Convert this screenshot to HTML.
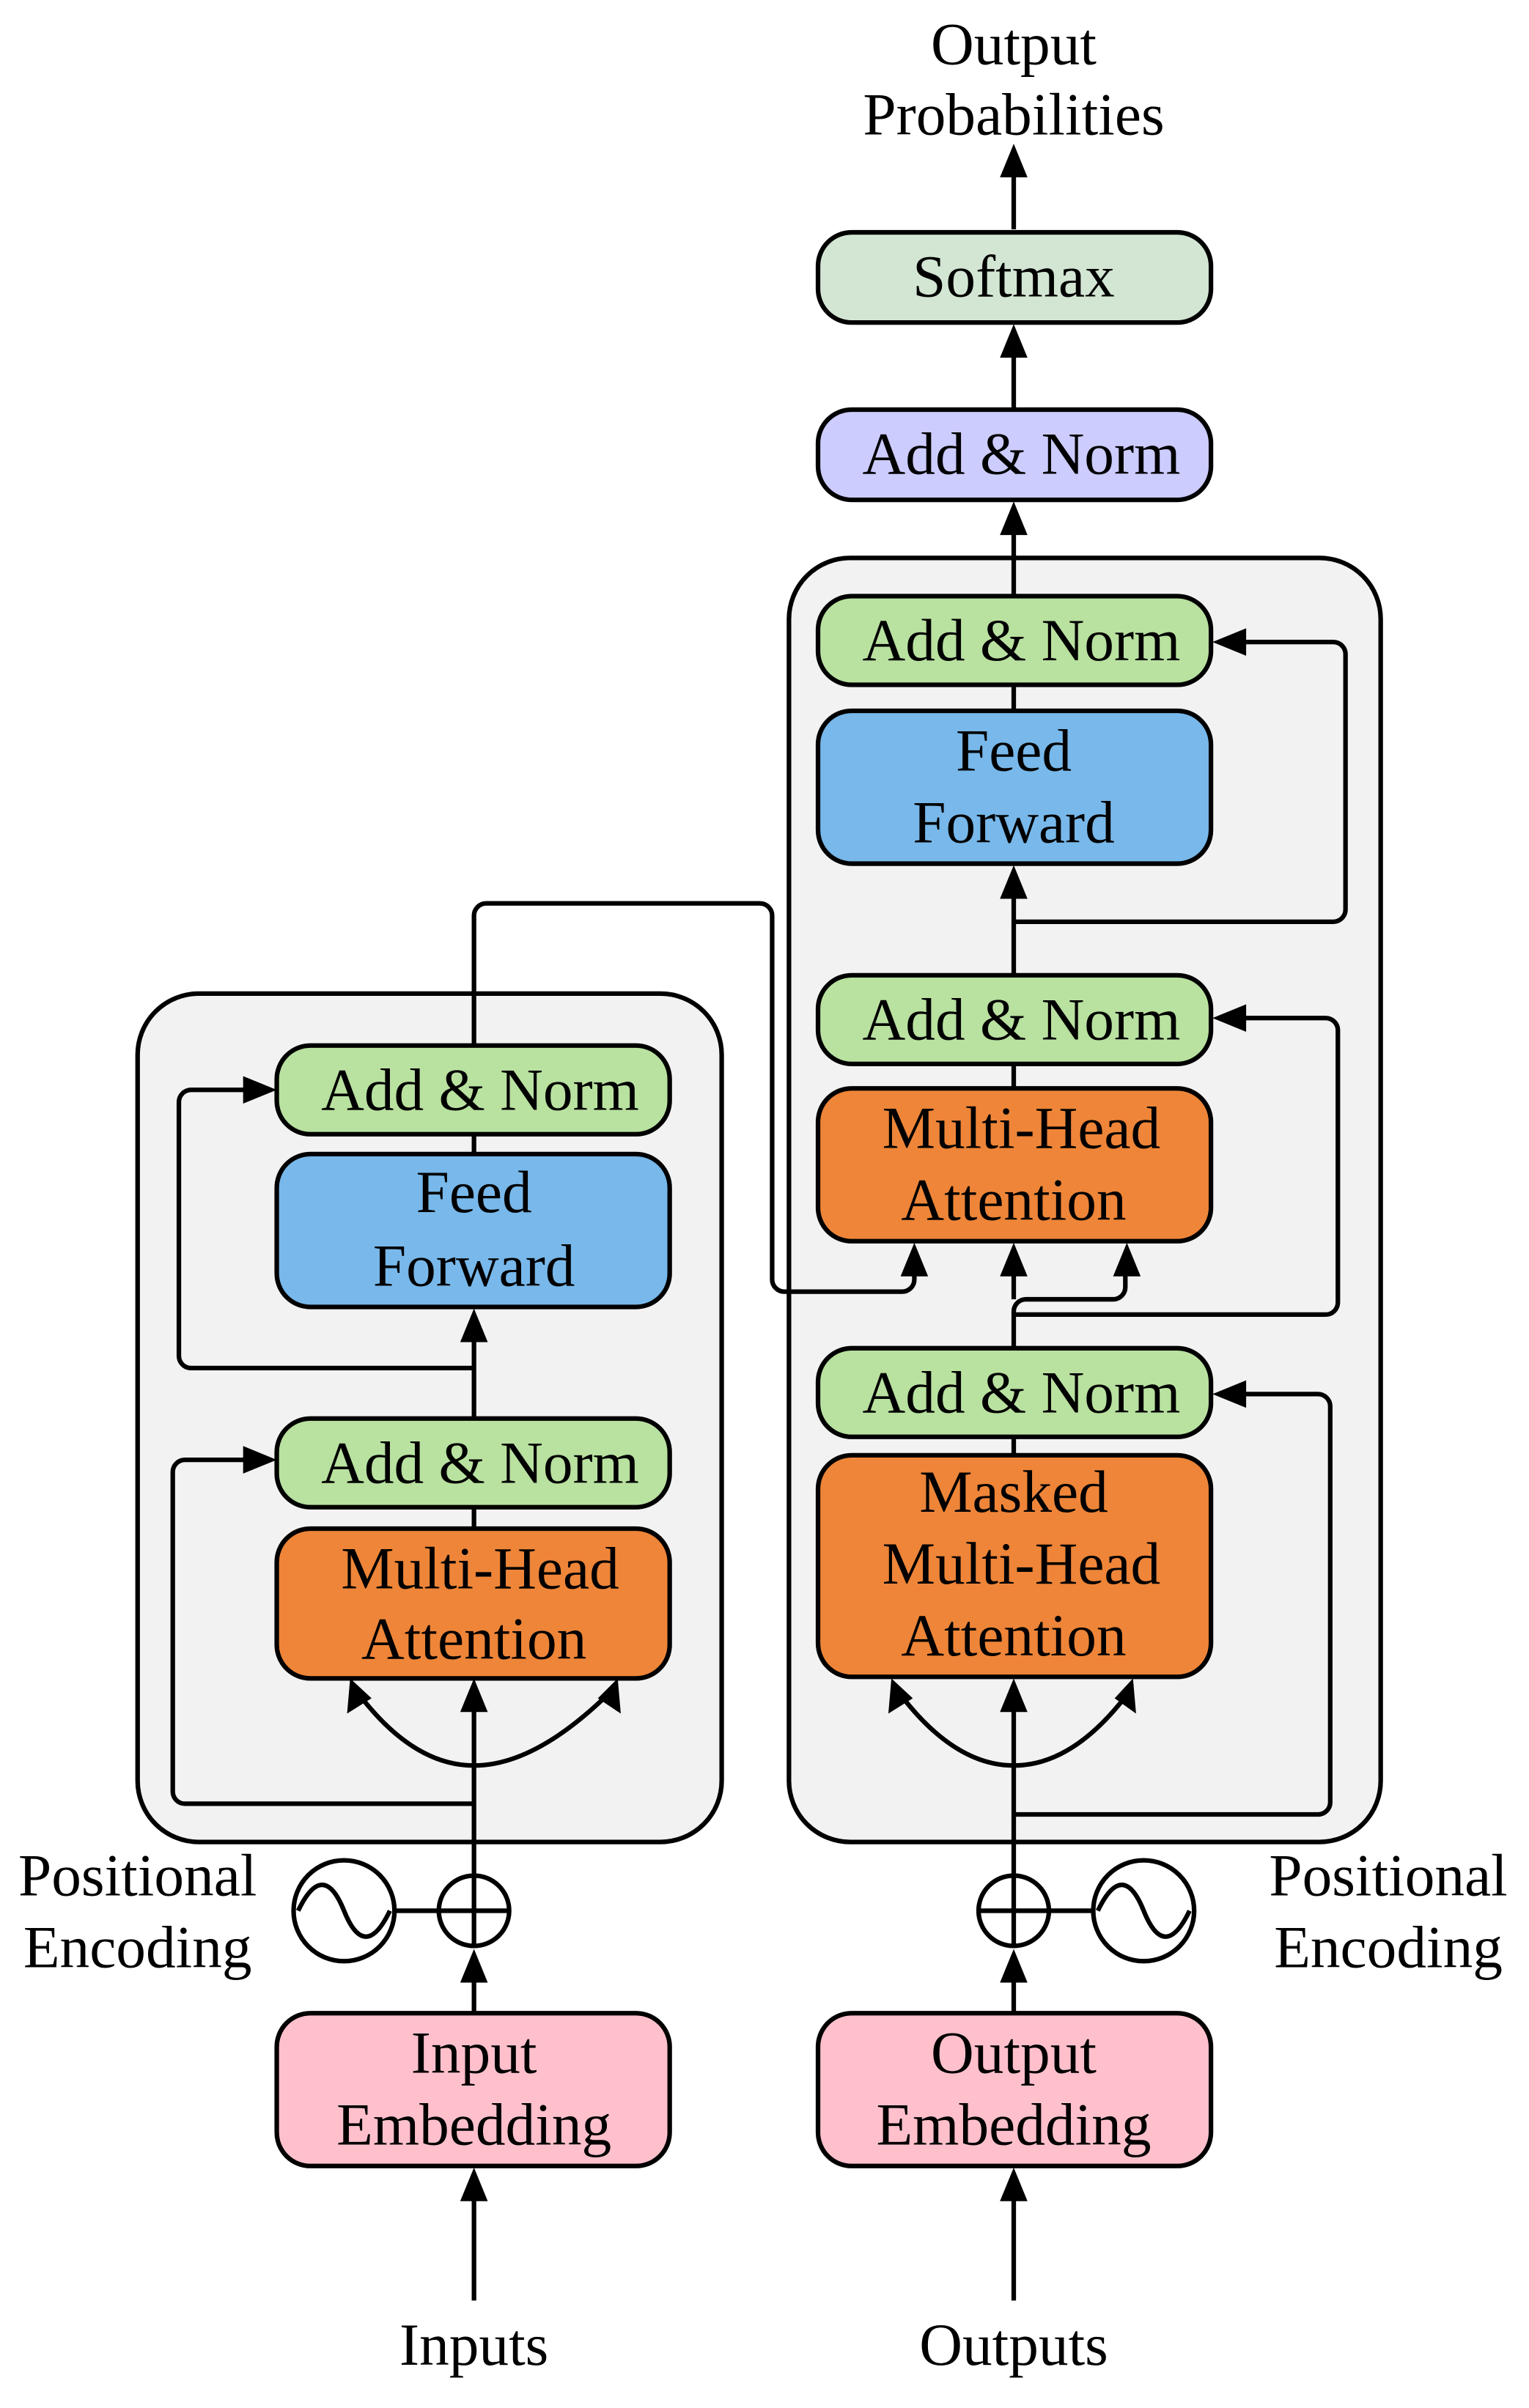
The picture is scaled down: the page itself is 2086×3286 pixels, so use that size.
<!DOCTYPE html>
<html><head><meta charset="utf-8"><style>
html,body{margin:0;padding:0;background:#fff;}
svg{display:block;}
text{font-family:"Liberation Serif",serif;font-size:39px;fill:#000;text-anchor:middle;}
</style></head><body>
<svg width="2086" height="3286" viewBox="0 0 1000 1575.3" preserveAspectRatio="none" xmlns="http://www.w3.org/2000/svg">
<g stroke="#000" stroke-width="3" fill="none">
<rect x="90" y="650" width="382" height="555" rx="40" fill="#f2f2f2"/>
<rect x="516" y="365" width="387" height="840" rx="40" fill="#f2f2f2"/>
<rect x="535" y="152" width="257" height="59" rx="22" fill="#d3e5d3"/>
<rect x="535" y="268" width="257" height="59" rx="22" fill="#ccccff"/>
<rect x="535" y="390" width="257" height="58" rx="22" fill="#b9e1a0"/>
<rect x="535" y="465" width="257" height="100" rx="22" fill="#78b8ea"/>
<rect x="535" y="638" width="257" height="58" rx="22" fill="#b9e1a0"/>
<rect x="535" y="712" width="257" height="100" rx="22" fill="#ee8538"/>
<rect x="535" y="882" width="257" height="58" rx="22" fill="#b9e1a0"/>
<rect x="535" y="952" width="257" height="145" rx="22" fill="#ee8538"/>
<rect x="535" y="1317" width="257" height="100" rx="22" fill="#ffc0cc"/>
<rect x="181" y="684" width="257" height="58" rx="22" fill="#b9e1a0"/>
<rect x="181" y="755" width="257" height="100" rx="22" fill="#78b8ea"/>
<rect x="181" y="928" width="257" height="58" rx="22" fill="#b9e1a0"/>
<rect x="181" y="1000" width="257" height="98" rx="22" fill="#ee8538"/>
<rect x="181" y="1317" width="257" height="100" rx="22" fill="#ffc0cc"/>
<line x1="663" y1="150" x2="663" y2="110"/>
<line x1="663" y1="268" x2="663" y2="228"/>
<line x1="663" y1="390" x2="663" y2="344"/>
<line x1="663" y1="448" x2="663" y2="465"/>
<line x1="663" y1="638" x2="663" y2="582"/>
<path d="M663 603 H872 a8 8 0 0 0 8-8 V428 a8 8 0 0 0 -8-8 H810"/>
<line x1="663" y1="696" x2="663" y2="712"/>
<path d="M663 882 V858 a8 8 0 0 1 8-8 H728 a8 8 0 0 0 8-8 V830"/>
<line x1="663" y1="850" x2="663" y2="830"/>
<path d="M663 860 H867 a8 8 0 0 0 8-8 V674 a8 8 0 0 0 -8-8 H810"/>
<path d="M310 684 V599 a8 8 0 0 1 8-8 H497 a8 8 0 0 1 8 8 V837 a8 8 0 0 0 8 8 H590 a8 8 0 0 0 8-8 V830"/>
<line x1="663" y1="940" x2="663" y2="952"/>
<line x1="663" y1="1226" x2="663" y2="1115"/>
<path d="M590 1110 Q625 1155 663 1155 Q701 1155 736 1110"/>
<path d="M663 1187 H862 a8 8 0 0 0 8-8 V920 a8 8 0 0 0 -8-8 H810"/>
<circle cx="663" cy="1250" r="23"/>
<line x1="640" y1="1250" x2="686" y2="1250"/><line x1="663" y1="1227" x2="663" y2="1273"/>
<line x1="686" y1="1250" x2="715" y2="1250"/>
<circle cx="748" cy="1250" r="33"/>
<path d="M718 1250 C730 1225 740 1230 748 1250 C756 1270 766 1275 778 1250"/>
<line x1="663" y1="1317" x2="663" y2="1292"/>
<line x1="663" y1="1505" x2="663" y2="1434"/>
<line x1="310" y1="742" x2="310" y2="755"/>
<line x1="310" y1="928" x2="310" y2="872"/>
<path d="M310 895 H125 a8 8 0 0 1 -8-8 V721 a8 8 0 0 1 8-8 H165"/>
<line x1="310" y1="986" x2="310" y2="1000"/>
<line x1="310" y1="1226" x2="310" y2="1115"/>
<path d="M236 1110 Q271 1155 310 1155 Q349 1155 396 1110"/>
<path d="M310 1180 H121 a8 8 0 0 1 -8-8 V963 a8 8 0 0 1 8-8 H165"/>
<circle cx="310" cy="1250" r="23"/>
<line x1="287" y1="1250" x2="333" y2="1250"/><line x1="310" y1="1227" x2="310" y2="1273"/>
<line x1="287" y1="1250" x2="258" y2="1250"/>
<circle cx="225" cy="1250" r="33"/>
<path d="M195 1250 C207 1225 217 1230 225 1250 C233 1270 243 1275 255 1250"/>
<line x1="310" y1="1317" x2="310" y2="1292"/>
<line x1="310" y1="1505" x2="310" y2="1434"/>
</g>
<g fill="#000">
<polygon points="663,94 654,116 672,116"/>
<polygon points="663,212 654,234 672,234"/>
<polygon points="663,328 654,350 672,350"/>
<polygon points="663,566 654,588 672,588"/>
<polygon points="793,420 815,411 815,429"/>
<polygon points="793,666 815,657 815,675"/>
<polygon points="598,813 589,835 607,835"/>
<polygon points="663,813 654,835 672,835"/>
<polygon points="737,813 728,835 746,835"/>
<polygon points="793,912 815,903 815,921"/>
<polygon points="663,1098 654,1120 672,1120"/>
<polygon points="583,1098 581,1121 597,1111"/>
<polygon points="741,1098 729,1111 743,1121"/>
<polygon points="663,1275 654,1297 672,1297"/>
<polygon points="663,1418 654,1440 672,1440"/>
<polygon points="310,856 301,878 319,878"/>
<polygon points="181,713 159,704 159,722"/>
<polygon points="181,955 159,946 159,964"/>
<polygon points="310,1098 301,1120 319,1120"/>
<polygon points="229,1098 227,1121 243,1111"/>
<polygon points="404,1098 391,1111 406,1121"/>
<polygon points="310,1275 301,1297 319,1297"/>
<polygon points="310,1418 301,1440 319,1440"/>
</g>
<text x="663" y="42">Output</text>
<text x="663" y="88">Probabilities</text>
<text x="663" y="194">Softmax</text>
<text x="668" y="310">Add &amp; Norm</text>
<text x="668" y="432">Add &amp; Norm</text>
<text x="663" y="504">Feed</text>
<text x="663" y="551">Forward</text>
<text x="668" y="680">Add &amp; Norm</text>
<text x="668" y="751">Multi-Head</text>
<text x="663" y="798">Attention</text>
<text x="668" y="924">Add &amp; Norm</text>
<text x="663" y="989">Masked</text>
<text x="668" y="1036">Multi-Head</text>
<text x="663" y="1083">Attention</text>
<text x="663" y="1356">Output</text>
<text x="663" y="1403">Embedding</text>
<text x="663" y="1547">Outputs</text>
<text x="908" y="1240">Positional</text>
<text x="908" y="1287">Encoding</text>
<text x="314" y="726">Add &amp; Norm</text>
<text x="310" y="793">Feed</text>
<text x="310" y="841">Forward</text>
<text x="314" y="970">Add &amp; Norm</text>
<text x="314" y="1039">Multi-Head</text>
<text x="310" y="1085">Attention</text>
<text x="310" y="1356">Input</text>
<text x="310" y="1403">Embedding</text>
<text x="310" y="1547">Inputs</text>
<text x="90" y="1240">Positional</text>
<text x="90" y="1287">Encoding</text>
</svg>
</body></html>
